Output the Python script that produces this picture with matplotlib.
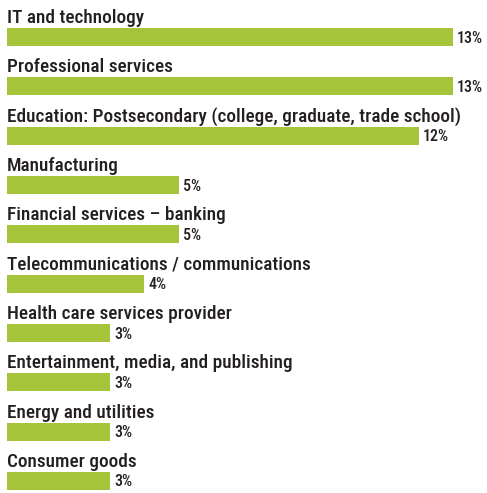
import matplotlib
matplotlib.use("Agg")
import matplotlib.pyplot as plt
from matplotlib import font_manager

# ── Data ────────────────────────────────────────────────────
categories = [
    "IT and technology",
    "Professional services",
    "Education: Postsecondary (college, graduate, trade school)",
    "Manufacturing",
    "Financial services \u2013 banking",
    "Telecommunications / communications",
    "Health care services provider",
    "Entertainment, media, and publishing",
    "Energy and utilities",
    "Consumer goods",
]
values = [13, 13, 12, 5, 5, 4, 3, 3, 3, 3]

# ── Style ───────────────────────────────────────────────────
BAR = "#a5c43a"
TEXT = "#231f20"

# pick a narrow face if one is installed
names = {(f.name, str(f.stretch)) for f in font_manager.fontManager.ttflist}
FAMILY, STRETCH = "DejaVu Sans", "normal"
for fam, st in [("Liberation Sans Narrow", "normal"),
                ("Liberation Sans Narrow", "condensed"),
                ("Roboto Condensed", "normal"),
                ("Roboto Condensed", "condensed"),
                ("DejaVu Sans", "condensed"),
                ("DejaVu Sans", "semi-condensed")]:
    if (fam, st) in names:
        FAMILY, STRETCH = fam, st
        break
WEIGHT = "medium"

W, H = 487, 493
fig = plt.figure(figsize=(W / 100, H / 100), dpi=100)
ax = fig.add_axes([7 / W, 0, (W - 7) / W, 1])
ax.axis("off")

px_per_unit = 34.3
ax.set_xlim(0, (W - 7) / px_per_unit)
step = 49.33
ax.set_ylim(9 + (H - 481) / step, -37 / step)

bar_h = 18 / step
ypos = list(range(len(categories)))
ax.barh(ypos, values, height=bar_h, color=BAR, left=0)

renderer = fig.canvas.get_renderer()


def fit_size(s, target_px, start):
    t = fig.text(0, 0, s, fontsize=start, family=FAMILY, fontstretch=STRETCH,
                 fontweight=WEIGHT)
    w = t.get_window_extent(renderer).width
    t.remove()
    return min(start, start * target_px / w)


label_fs = fit_size(categories[2], 455, 14)
value_fs = fit_size("13%", 28, 11.5)

for y, cat, v in zip(ypos, categories, values):
    ax.text(0, y - bar_h / 2 - 5 / step, cat, ha="left", va="baseline",
            fontsize=label_fs, color=TEXT, family=FAMILY, fontstretch=STRETCH,
            fontweight=WEIGHT)
    ax.text(v + 4 / px_per_unit, y + 1 / step, f"{v}%", ha="left", va="center",
            fontsize=value_fs, color=TEXT, family=FAMILY, fontstretch=STRETCH,
            fontweight=WEIGHT)

fig.savefig("out.png", dpi=100, facecolor="white")
